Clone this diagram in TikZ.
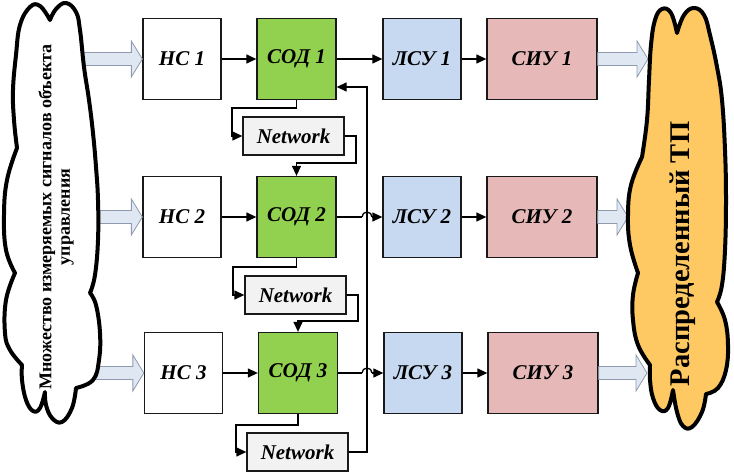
\documentclass[tikz,border=0pt]{standalone}
\usepackage{fontspec}
\setmainfont{Liberation Serif}
\usetikzlibrary{arrows.meta,calc}
\definecolor{sodgreen}{HTML}{92D050}
\definecolor{lsublue}{HTML}{C6D9F1}
\definecolor{siupink}{HTML}{E6B9B8}
\definecolor{netgray}{HTML}{F2F2F2}
\definecolor{cloudorange}{HTML}{FEC863}
\definecolor{fatfill}{HTML}{DFE7F3}
\definecolor{fatdraw}{HTML}{8E9BAE}
\newcommand\fatarrow[2]{%
  \filldraw[fatarr] ($(#1)+(0,-6.5)$) -- ($(#2)+(-11,-6.5)$) -- ($(#2)+(-11,-18)$) -- (#2)
    -- ($(#2)+(-11,18)$) -- ($(#2)+(-11,6.5)$) -- ($(#1)+(0,6.5)$) -- cycle;}
\begin{document}
\begin{tikzpicture}[x=1pt,y=-1pt,
  box/.style={draw=black!90, line width=1.3pt, minimum height=81pt, inner sep=0pt,
    font=\fontsize{21}{25}\selectfont\bfseries\itshape},
  hcbox/.style={box, fill=white, minimum width=78pt},
  sodbox/.style={box, fill=sodgreen, minimum width=79pt},
  lsubox/.style={box, fill=lsublue, minimum width=78pt},
  siubox/.style={box, fill=siupink, minimum width=110pt},
  netbox/.style={draw=black!90, line width=1.3pt, fill=netgray, minimum width=101pt,
    minimum height=38pt, inner sep=0pt, font=\fontsize{21}{25}\selectfont\bfseries\itshape},
  conn/.style={line width=1.3pt},
  arr/.style={conn, -{Triangle[length=10pt,width=9pt]}},
  fatarr/.style={fill=fatfill, draw=fatdraw, line width=0.8pt},
  cloud/.style={line width=4pt, line join=round}]
\useasboundingbox (0,0) rectangle (734,473);

% boxes
\node[hcbox]  (hc1)  at (182,59)  {НС 1};
\node[sodbox] (sod1) at (296.5,59) {СОД 1};
\node[lsubox] (lsu1) at (422,59)  {ЛСУ 1};
\node[siubox] (siu1) at (542,59)  {СИУ 1};

\node[hcbox]  (hc2)  at (182,217)  {НС 2};
\node[sodbox] (sod2) at (296.5,217) {СОД 2};
\node[lsubox] (lsu2) at (422,217)  {ЛСУ 2};
\node[siubox] (siu2) at (542,217)  {СИУ 2};

\node[hcbox]  (hc3)  at (183.5,373) {НС 3};
\node[sodbox] (sod3) at (298,373)  {СОД 3};
\node[lsubox] (lsu3) at (423,373)  {ЛСУ 3};
\node[siubox] (siu3) at (543,373)  {СИУ 3};

\node[netbox] (net1) at (293.5,136) {Network};
\node[netbox] (net2) at (295.5,295) {Network};
\node[netbox] (net3) at (297.5,452) {Network};

% row connectors
\draw[arr] (hc1) -- (sod1);
\draw[arr] (sod1) -- (lsu1);
\draw[arr] (lsu1) -- (siu1);
\draw[arr] (hc2) -- (sod2);
\draw[arr] (lsu2) -- (siu2);
\draw[arr] (hc3) -- (sod3);
\draw[arr] (lsu3) -- (siu3);
\coordinate (hop2) at (362,217);
\coordinate (hop2e) at (372,217);
\coordinate (hop3) at (362,373);
\coordinate (hop3e) at (372,373);
\draw[conn] (sod2.east) -- (hop2);
\draw[conn] (hop2) arc[start angle=180,end angle=0,radius=5pt];
\draw[arr] (hop2e) -- (lsu2.west);
\draw[conn] (sod3.east) -- (hop3);
\draw[conn] (hop3) arc[start angle=180,end angle=0,radius=5pt];
\draw[arr] (hop3e) -- (lsu3.west);

% network loops
\coordinate (a1) at (232,108);
\coordinate (b1) at (356,163);
\draw[arr] (sod1.south) |- (a1) |- (net1.west);
\draw[arr] (net1.east) -| (b1) -| (sod2.north);
\coordinate (a2) at (233,267);
\coordinate (b2) at (358,321);
\draw[arr] (sod2.south) |- (a2) |- (net2.west);
\draw[arr] (net2.east) -| (b2) -| (sod3.north);
\coordinate (a3) at (236,425);
\draw[arr] (sod3.south) |- (a3) |- (net3.west);
\coordinate (fb) at (367,87);
\draw[arr] (net3.east) -| (fb) -- (fb -| sod1.east);

% fat arrows
\coordinate (tl1) at (70,59);
\coordinate (tl2) at (70,217);
\coordinate (tl3) at (70,373);
\fatarrow{tl1}{hc1.west}
\fatarrow{tl2}{hc2.west}
\fatarrow{tl3}{hc3.west}
\coordinate (tr1) at (648,59);
\coordinate (tr2) at (628,217);
\coordinate (tr3) at (647,373);
\fatarrow{siu1.east}{tr1}
\fatarrow{siu2.east}{tr2}
\fatarrow{siu3.east}{tr3}

% left cloud
\filldraw[cloud, fill=white]
  plot[smooth,tension=0.7] coordinates {(50,20) (56,9) (66,3) (76,12) (80,30) (84,67) (89,100) (93,133) (96,167) (98,200) (98,240) (95,275) (90,293)}
  -- plot[smooth,tension=0.7] coordinates {(90,293) (96,305) (100,333) (99,360) (93,380) (76,388)}
  -- plot[smooth,tension=0.7] coordinates {(76,388) (72,408) (62,422) (52,418) (46,405) (45,392)}
  -- plot[smooth,tension=0.7] coordinates {(45,392) (40,408) (33,411) (26,400) (22,380) (22,365)}
  -- plot[smooth,tension=0.7] coordinates {(22,365) (10,350) (5,333) (6,300) (15,273)}
  -- plot[smooth,tension=0.7] coordinates {(15,273) (6,250) (4,215) (7,180) (17,148)}
  -- plot[smooth,tension=0.7] coordinates {(17,148) (14,120) (13,90) (16,55) (20,25) (30,7) (40,6) (50,20)}
  -- cycle;
\node[rotate=90, align=center, inner sep=0pt, font=\fontsize{18}{18.5}\selectfont\bfseries] (lefttext) at (56,217)
  {Множество измеряемых сигналов объекта\\управления};

% right cloud
\filldraw[cloud, fill=cloudorange]
  plot[smooth,tension=0.7] coordinates {(677,33) (684,15) (694,8) (704,15) (710,35) (717,67) (722,100) (725,150) (726,200) (725,250) (722,285) (717,302)}
  -- plot[smooth,tension=0.7] coordinates {(717,302) (725,320) (728,345) (726,370) (718,388) (706,394)}
  -- plot[smooth,tension=0.7] coordinates {(706,394) (702,412) (692,427) (683,426) (677,412) (673,390)}
  -- plot[smooth,tension=0.7] coordinates {(673,390) (668,408) (660,410) (653,398) (650,380) (650,365)}
  -- plot[smooth,tension=0.7] coordinates {(650,365) (638,345) (633,320) (633,295) (638,273)}
  -- plot[smooth,tension=0.7] coordinates {(638,273) (630,245) (628,215) (631,185) (642,157)}
  -- plot[smooth,tension=0.7] coordinates {(642,157) (647,120) (649,80) (651,45) (655,20) (662,9) (671,13) (677,33)}
  -- cycle;
\node[rotate=90, inner sep=0pt, font=\fontsize{28.5}{32}\selectfont\bfseries] (righttext) at (683,254) {Распределенный ТП};
\end{tikzpicture}
\end{document}
